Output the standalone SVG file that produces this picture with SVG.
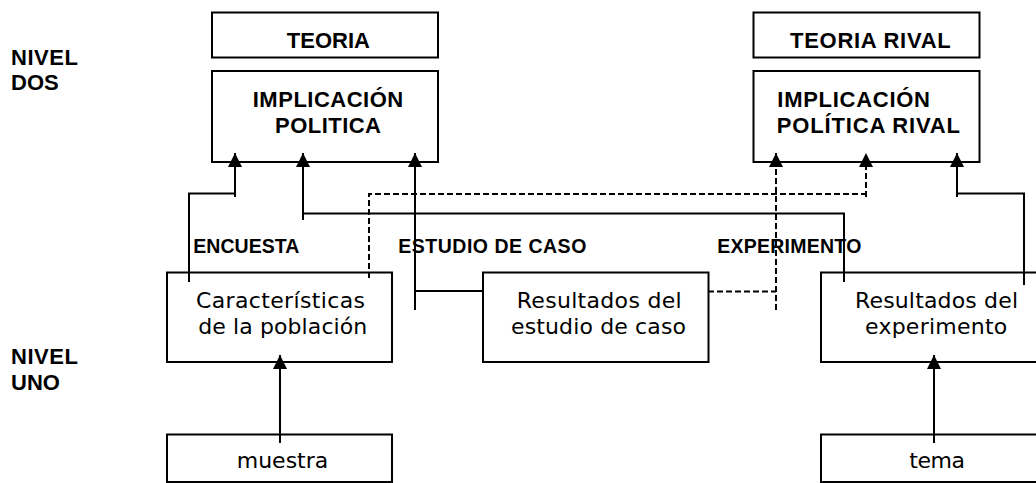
<svg xmlns="http://www.w3.org/2000/svg" width="1036" height="483" viewBox="0 0 1036 483">
<style>
.box{fill:#fff;stroke:#000;stroke-width:2}
.b{font-family:"Liberation Sans",Arial,sans-serif;font-weight:bold;font-size:22px;fill:#000}
.lb{font-family:"Liberation Sans",Arial,sans-serif;font-weight:bold;font-size:19.5px;fill:#000}
.r{font-family:"DejaVu Sans","Liberation Sans",sans-serif;font-size:22px;fill:#000}
.m{text-anchor:middle}
.c{fill:none;stroke:#000;stroke-width:2}
.d{stroke-dasharray:6 3}
</style>
<defs>
<marker id="arr" markerUnits="userSpaceOnUse" markerWidth="14" markerHeight="14" refX="13" refY="6.5" orient="auto" viewBox="0 0 13 13">
<path d="M0,0 L13,6.5 L0,13 z" fill="#000"/>
</marker>
</defs>
<rect width="1036" height="483" fill="#fff"/>
<g id="nivel-dos"><text class="b" x="11" y="65" textLength="67">NIVEL</text><text class="b" x="11" y="90">DOS</text></g>
<g id="nivel-uno"><text class="b" x="11" y="363.5" textLength="67">NIVEL</text><text class="b" x="11" y="390">UNO</text></g>
<g id="teoria"><rect class="box" x="212" y="12.5" width="226" height="45"/><text class="b" x="286.7" y="48.3" textLength="83.3">TEORIA</text></g>
<g id="implicacion-politica"><rect class="box" x="212" y="71" width="226" height="91"/><text class="b m" x="328" y="107" textLength="150.5">IMPLICACIÓN</text><text class="b m" x="328" y="133.3" textLength="106">POLITICA</text></g>
<g id="teoria-rival"><rect class="box" x="753.5" y="12.5" width="226" height="45"/><text class="b" x="790" y="48" textLength="160.7">TEORIA RIVAL</text></g>
<g id="implicacion-politica-rival"><rect class="box" x="753.5" y="71" width="226" height="91"/><text class="b" x="777.3" y="106.7" textLength="152.7">IMPLICACIÓN</text><text class="b" x="776.7" y="133.3" textLength="183.3">POLÍTICA RIVAL</text></g>
<g id="caracteristicas"><rect class="box" x="167" y="272.5" width="225" height="89.5"/><text class="r" x="196" y="307.5" textLength="169">Características</text><text class="r" x="198.3" y="334.3" textLength="169">de la población</text></g>
<g id="estudio"><rect class="box" x="483" y="272.5" width="225.5" height="89.5"/><text class="r" x="516.7" y="307.5" textLength="165">Resultados del</text><text class="r" x="511" y="334.3" textLength="175">estudio de caso</text></g>
<g id="experimento"><rect class="box" x="821" y="272.5" width="230" height="89.5"/><text class="r" x="855" y="307.5" textLength="163">Resultados del</text><text class="r" x="865" y="333.5" textLength="142.3">experimento</text></g>
<g id="muestra"><rect class="box" x="167" y="434.5" width="225" height="47.5"/><text class="r" x="236.7" y="468.3" textLength="91.6">muestra</text></g>
<g id="tema"><rect class="box" x="821" y="434.5" width="230" height="47.5"/><text class="r" x="909.3" y="468.3" textLength="55.7">tema</text></g>
<g id="connector-labels">
<text class="lb" x="193.3" y="252.5" textLength="106">ENCUESTA</text>
<text class="lb" x="398.3" y="253" textLength="188">ESTUDIO DE CASO</text>
<text class="lb" x="717.3" y="253" textLength="144">EXPERIMENTO</text>
</g>
<g id="connectors">
<path class="c" d="M189,282 V193.5 H235 M235,197 V153" marker-end="url(#arr)"/>
<path class="c" d="M844,282 V213.5 H303 M303,220 V153" marker-end="url(#arr)"/>
<path class="c" d="M483,291 H415 M415,310 V153" marker-end="url(#arr)"/>
<path class="c d" d="M369,278 V194 H866 M866,197 V153" marker-end="url(#arr)"/>
<path class="c d" d="M708,291.5 H776 M776,310 V153" marker-end="url(#arr)"/>
<path class="c" d="M1024,285 V193.5 H957 M957,197 V153" marker-end="url(#arr)"/>
<path class="c" d="M280,443 V355" marker-end="url(#arr)"/>
<path class="c" d="M934,443 V355" marker-end="url(#arr)"/>
</g>
</svg>
